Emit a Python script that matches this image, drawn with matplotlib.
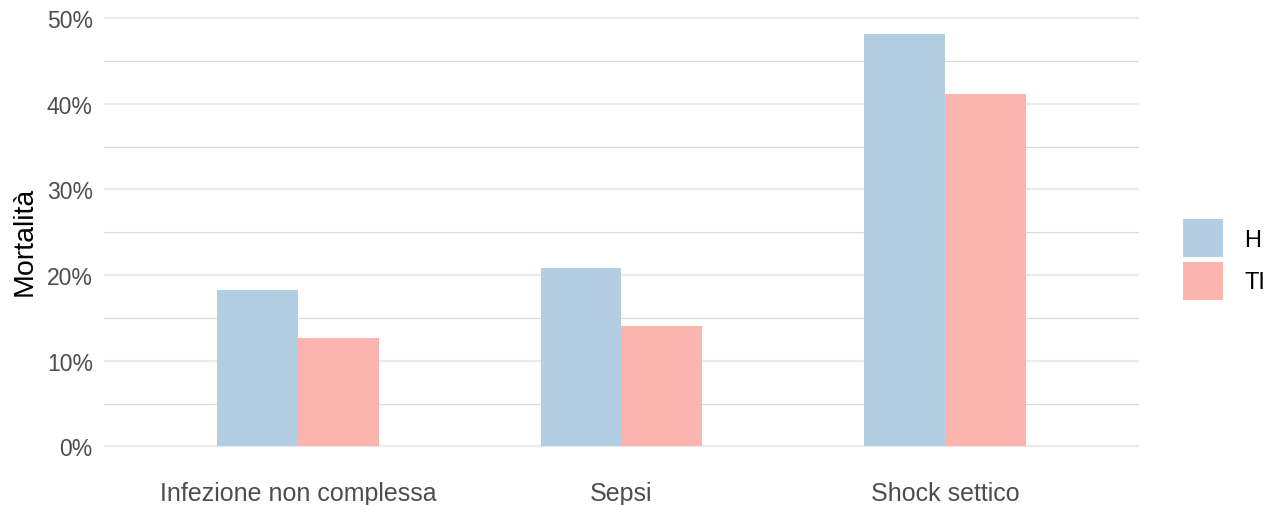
import matplotlib
matplotlib.use("Agg")
import matplotlib.pyplot as plt
import numpy as np
from matplotlib.ticker import MultipleLocator, FuncFormatter
from matplotlib.patches import Patch

# data
categories = ["Infezione non complessa", "Sepsi", "Shock settico"]
groups = ["H", "TI"]
mort_h = [18.3, 20.8, 48.2]
mort_ti = [12.7, 14.0, 41.2]
colors = ["#B3CDE3", "#FBB4AE"]

plt.rcParams["font.family"] = ["Liberation Sans", "DejaVu Sans"]

fig = plt.figure(figsize=(12.71, 5.06), dpi=100)
ax = fig.add_axes([0.0818, 0.0751, 0.8143, 0.8972])

x = np.arange(1, len(categories) + 1)
w = 0.25
ax.bar(x - w / 2, mort_h, width=w, color=colors[0], zorder=3)
ax.bar(x + w / 2, mort_ti, width=w, color=colors[1], zorder=3)

ax.set_xlim(0.4, 3.6)
top = max(mort_h + mort_ti)
ax.set_ylim(-0.05 * top, top * 1.05)
ax.set_xticks(x)
ax.set_xticklabels(categories)
ax.yaxis.set_major_locator(MultipleLocator(10))
ax.yaxis.set_minor_locator(MultipleLocator(5))
ax.yaxis.set_major_formatter(FuncFormatter(lambda v, p: f"{v:.0f}%"))

ax.grid(axis="y", which="major", color="#EBEBEB", lw=1.6, zorder=0)
ax.grid(axis="y", which="minor", color="#DADADA", lw=0.8, zorder=0)
ax.set_axisbelow(True)
for s in ax.spines.values():
    s.set_visible(False)
ax.tick_params(axis="both", which="both", length=0, colors="#4D4D4D")
ax.tick_params(axis="x", pad=10, labelsize=18)
ax.tick_params(axis="y", pad=8, labelsize=16.5)
ax.set_ylabel("Mortalità", fontsize=20.5, color="black", labelpad=7)

handles = [Patch(facecolor=c, edgecolor="none") for c in colors]
fig.legend(handles, groups, loc="center left", bbox_to_anchor=(0.9235, 0.485),
           frameon=False, fontsize=17, handlelength=1.7, handleheight=2.1,
           handletextpad=0.9, labelspacing=0.2, borderaxespad=0)

fig.savefig("out.png", dpi=100)
